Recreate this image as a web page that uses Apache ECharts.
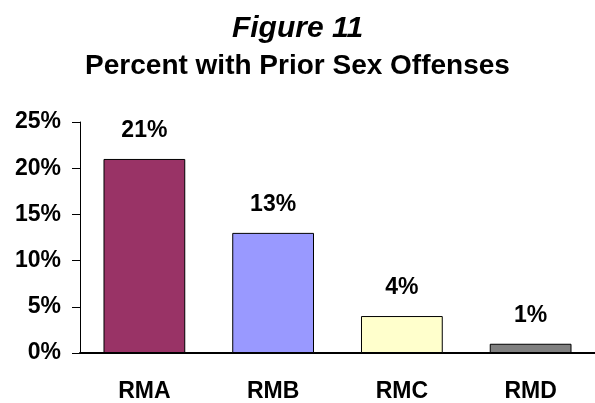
<!DOCTYPE html>
<html>
<head>
<meta charset="utf-8">
<script src="https://cdn.jsdelivr.net/npm/echarts@6/dist/echarts.min.js"></script>
<style>
  html, body { margin: 0; padding: 0; background: #ffffff; }
  #chart { width: 595px; height: 403px; }
</style>
</head>
<body>
<div id="chart"></div>
<script>
// Share of each group with prior sex offenses (percent)
const categories = ['RMA', 'RMB', 'RMC', 'RMD'];
const values = [21, 13, 4, 1];
const barColors = ['#993366', '#9999FF', '#FFFFCC', '#808080'];
const yTicks = { min: 0, max: 25, interval: 5 };

const font = 'Arial, "Liberation Sans", Helvetica, sans-serif';

const chart = echarts.init(document.getElementById('chart'), null, { renderer: 'canvas' });

chart.setOption({
  animation: false,
  backgroundColor: '#ffffff',
  title: [
    {
      text: 'Figure 11',
      left: 'center',
      top: 9,
      textStyle: { fontFamily: font, fontSize: 30, fontWeight: 'bold', fontStyle: 'italic', color: '#000' }
    },
    {
      text: 'Percent with Prior Sex Offenses',
      left: 'center',
      top: 47,
      textStyle: { fontFamily: font, fontSize: 28, fontWeight: 'bold', color: '#000' }
    }
  ],
  grid: { left: 80, right: 0, top: 122, bottom: 46, containLabel: false },
  xAxis: {
    type: 'category',
    data: categories,
    axisLine: { show: true, lineStyle: { color: '#000', width: 2 } },
    axisTick: { show: false },
    axisLabel: {
      margin: 27,
      fontFamily: font, fontSize: 23, fontWeight: 'bold', color: '#000'
    }
  },
  yAxis: {
    type: 'value',
    min: yTicks.min,
    max: yTicks.max,
    interval: yTicks.interval,
    axisLine: { show: true, lineStyle: { color: '#000', width: 1 } },
    axisTick: { show: true, length: 8, lineStyle: { color: '#000' } },
    splitLine: { show: false },
    axisLabel: {
      margin: 19,
      formatter: '{value}%',
      fontFamily: font, fontSize: 23, fontWeight: 'bold', color: '#000'
    }
  },
  series: [{
    type: 'bar',
    barWidth: '63.5%',
    data: values.map((v, i) => ({
      value: v,
      itemStyle: { color: barColors[i], borderColor: '#000', borderWidth: 1 }
    })),
    label: {
      show: true,
      position: 'top',
      distance: 17,
      formatter: '{c}%',
      fontFamily: font, fontSize: 23, fontWeight: 'bold', color: '#000'
    }
  }]
});
</script>
</body>
</html>
